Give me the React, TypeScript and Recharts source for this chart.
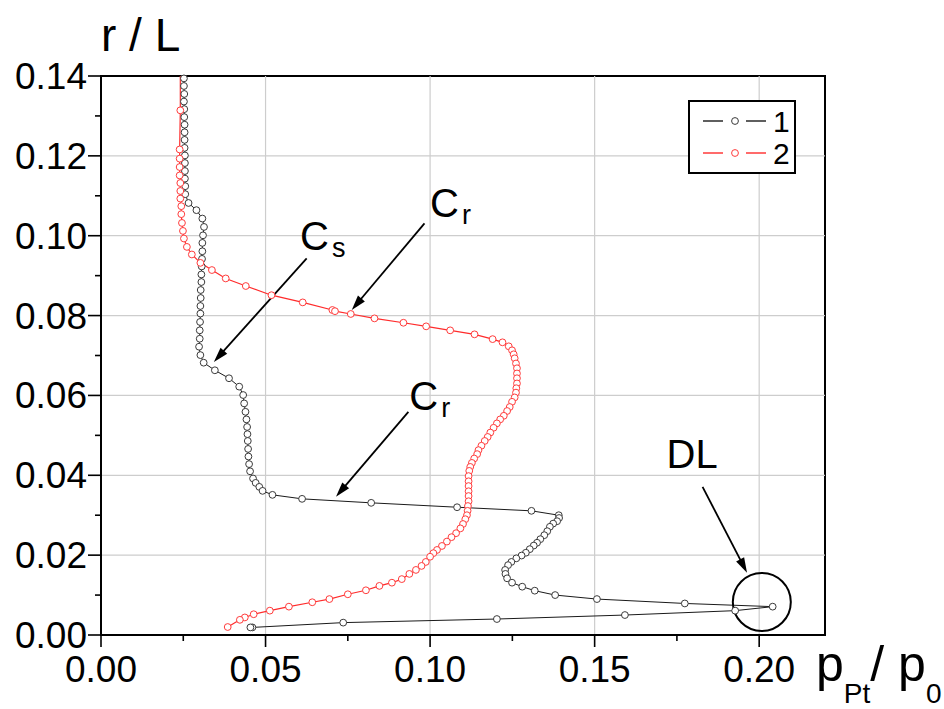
import React from 'react';
import {
  ComposedChart,
  Line,
  XAxis,
  YAxis,
  ReferenceLine,
  ReferenceArea,
  ReferenceDot,
  Legend,
} from 'recharts';

const FONT = "'Liberation Sans', Arial, Helvetica, sans-serif";

// Series 1 (black): x = p_Pt/p_0, y = r/L, ordered along the curve
const s1X = [
  0.0252, 0.0252, 0.0253, 0.0252, 0.0253, 0.0253, 0.0254, 0.0254, 0.0254, 0.0254, 0.0255, 0.0255, 0.0255, 0.0255, 0.0256, 0.0256,
  0.0266, 0.0290, 0.0308, 0.0313, 0.0310, 0.0308, 0.0308, 0.0307, 0.0306, 0.0305, 0.0305, 0.0303, 0.0303, 0.0302, 0.0302, 0.0301,
  0.0300, 0.0300, 0.0298, 0.0302, 0.0312, 0.0346, 0.0389, 0.0420, 0.0432, 0.0435, 0.0439, 0.0442, 0.0444, 0.0445, 0.0446, 0.0447,
  0.0448, 0.0450, 0.0453, 0.0462, 0.0470, 0.0481, 0.0491, 0.0521, 0.0611, 0.0821, 0.1082, 0.1308, 0.1391, 0.1392, 0.1386, 0.1374,
  0.1364, 0.1356, 0.1347, 0.1335, 0.1325, 0.1315, 0.1303, 0.1291, 0.1278, 0.1262, 0.1247, 0.1237, 0.1228, 0.1229, 0.1234, 0.1249,
  0.1280, 0.1318, 0.1380, 0.1507, 0.1774, 0.2041, 0.1927, 0.1592, 0.1203, 0.0736, 0.0460, 0.0454,
];
const s1Y = [
  0.1394, 0.1375, 0.1355, 0.1336, 0.1317, 0.1297, 0.1278, 0.1259, 0.1240, 0.1220, 0.1201, 0.1182, 0.1162, 0.1143, 0.1124, 0.1104,
  0.1082, 0.1064, 0.1043, 0.1022, 0.1001, 0.0982, 0.0961, 0.0942, 0.0923, 0.0903, 0.0884, 0.0864, 0.0844, 0.0824, 0.0805, 0.0784,
  0.0763, 0.0742, 0.0722, 0.0701, 0.0682, 0.0663, 0.0643, 0.0622, 0.0601, 0.0580, 0.0559, 0.0540, 0.0521, 0.0503, 0.0486, 0.0466,
  0.0447, 0.0428, 0.0410, 0.0392, 0.0381, 0.0371, 0.0361, 0.0351, 0.0341, 0.0331, 0.0320, 0.0311, 0.0300, 0.0293, 0.0285, 0.0279,
  0.0271, 0.0260, 0.0250, 0.0240, 0.0231, 0.0224, 0.0215, 0.0206, 0.0199, 0.0192, 0.0183, 0.0175, 0.0163, 0.0153, 0.0142, 0.0131,
  0.0121, 0.0111, 0.0100, 0.0090, 0.0079, 0.0071, 0.0061, 0.0050, 0.0040, 0.0031, 0.0019, 0.0019,
];

// Series 2 (red)
const s2X = [
  0.0241, 0.0241, 0.0239, 0.0239, 0.0239, 0.0239, 0.0241, 0.0241, 0.0241, 0.0244, 0.0244, 0.0246, 0.0249, 0.0252, 0.0261, 0.0276,
  0.0302, 0.0337, 0.0379, 0.0440, 0.0518, 0.0613, 0.0703, 0.0711, 0.0759, 0.0831, 0.0919, 0.0988, 0.1061, 0.1135, 0.1190, 0.1220,
  0.1239, 0.1249, 0.1254, 0.1257, 0.1261, 0.1264, 0.1264, 0.1264, 0.1264, 0.1262, 0.1261, 0.1257, 0.1249, 0.1242, 0.1234, 0.1224,
  0.1213, 0.1203, 0.1193, 0.1183, 0.1175, 0.1166, 0.1156, 0.1147, 0.1143, 0.1134, 0.1127, 0.1122, 0.1119, 0.1117, 0.1117, 0.1117,
  0.1117, 0.1117, 0.1117, 0.1115, 0.1114, 0.1112, 0.1107, 0.1100, 0.1092, 0.1079, 0.1065, 0.1051, 0.1036, 0.1021, 0.1010, 0.1000,
  0.0987, 0.0974, 0.0957, 0.0937, 0.0914, 0.0884, 0.0846, 0.0805, 0.0750, 0.0694, 0.0642, 0.0571, 0.0513, 0.0464, 0.0437, 0.0422,
  0.0385,
];
const s2Y = [
  0.1400, 0.1314, 0.1216, 0.1193, 0.1172, 0.1151, 0.1132, 0.1112, 0.1093, 0.1074, 0.1054, 0.1032, 0.1012, 0.0993, 0.0972, 0.0953,
  0.0932, 0.0914, 0.0893, 0.0874, 0.0851, 0.0833, 0.0814, 0.0811, 0.0804, 0.0793, 0.0782, 0.0773, 0.0763, 0.0753, 0.0741, 0.0733,
  0.0723, 0.0713, 0.0703, 0.0693, 0.0680, 0.0668, 0.0655, 0.0643, 0.0630, 0.0618, 0.0607, 0.0595, 0.0584, 0.0571, 0.0561, 0.0549,
  0.0540, 0.0530, 0.0519, 0.0507, 0.0496, 0.0486, 0.0474, 0.0463, 0.0453, 0.0442, 0.0431, 0.0421, 0.0411, 0.0398, 0.0385, 0.0373,
  0.0360, 0.0348, 0.0335, 0.0323, 0.0311, 0.0300, 0.0290, 0.0278, 0.0267, 0.0255, 0.0245, 0.0234, 0.0223, 0.0213, 0.0205, 0.0196,
  0.0183, 0.0173, 0.0163, 0.0153, 0.0140, 0.0131, 0.0123, 0.0112, 0.0102, 0.0090, 0.0082, 0.0071, 0.0061, 0.0052, 0.0044, 0.0038,
  0.0020,
];

const seriesNames = ['1', '2'];
const seriesColors = ['#1a1a1a', '#ff2b2b'];
const dotColors = ['#3a3a3a', '#ff3b3b'];

const xTicks = [0, 0.025, 0.05, 0.075, 0.1, 0.125, 0.15, 0.175, 0.2];
const xMajor = [0, 0.05, 0.1, 0.15, 0.2];
const yTicks = [0, 0.01, 0.02, 0.03, 0.04, 0.05, 0.06, 0.07, 0.08, 0.09, 0.1, 0.11, 0.12, 0.13, 0.14];
const yMajor = [0, 0.02, 0.04, 0.06, 0.08, 0.1, 0.12, 0.14];
const xGrid = [0.05, 0.1, 0.15, 0.2];
const yGrid = [0.02, 0.04, 0.06, 0.08, 0.1, 0.12];

// annotations: [x0, y0, x1, y1] arrows (tail -> head)
const arrows = [
  [0.0625, 0.0943, 0.0343, 0.0684],
  [0.0983, 0.1031, 0.0762, 0.0814],
  [0.0934, 0.0559, 0.0714, 0.0346],
  [0.1828, 0.0371, 0.1963, 0.0156],
];
const annoMain = ['C', 'C', 'C', 'DL'];
const annoSub = ['s', 'r', 'r', ''];
const annoX = [0.0605, 0.1000, 0.0937, 0.1874];
const annoY = [0.0964, 0.1047, 0.0563, 0.0418];
const circleX = 0.2008;
const circleY = 0.00826;

const d1 = s1X.map((x, i) => ({ x, y: s1Y[i] }));
const d2 = s2X.map((x, i) => ({ x, y: s2Y[i] }));

const isIn = (v: number, arr: number[]) => arr.some((m) => Math.abs(m - v) < 1e-9);

const XTick = (props: any) => {
  const { x, y, payload } = props;
  const major = isIn(payload.value, xMajor);
  return (
    <g>
      <line x1={x} y1={y} x2={x} y2={y + (major ? 12 : 6)} stroke="#000" strokeWidth={1.6} />
      {major && (
        <text x={x} y={y + 47} textAnchor="middle" fontSize={37} fontFamily={FONT} fill="#000">
          {payload.value.toFixed(2)}
        </text>
      )}
    </g>
  );
};

const YTick = (props: any) => {
  const { x, y, payload } = props;
  const major = isIn(payload.value, yMajor);
  return (
    <g>
      <line x1={x} y1={y} x2={x - (major ? 13 : 6)} y2={y} stroke="#000" strokeWidth={1.6} />
      {major && (
        <text x={x - 14} y={y + 13} textAnchor="end" fontSize={37} fontFamily={FONT} fill="#000">
          {payload.value.toFixed(2)}
        </text>
      )}
    </g>
  );
};

const YTitle = (props: any) => {
  const vb = props.viewBox || {};
  return (
    <text x={vb.x + vb.width} y={vb.y - 25} fontSize={46} fontFamily={FONT} fill="#000">
      r / L
    </text>
  );
};

const XTitle = (props: any) => {
  const vb = props.viewBox || {};
  return (
    <text x={vb.x + vb.width - 9} y={vb.y + 46} fontSize={50} fontFamily={FONT} fill="#000">
      <tspan>p</tspan>
      <tspan fontSize={28} dy={22}>Pt</tspan>
      <tspan dy={-22}>/ p</tspan>
      <tspan fontSize={28} dy={22}>0</tspan>
    </text>
  );
};

const makeDot = (ci: number, skipFirst: boolean) => (p: any) => {
  if (skipFirst && p.index === 0) return <g key={`d${ci}-${p.index}`} />;
  return (
    <circle
      key={`d${ci}-${p.index}`}
      cx={p.cx}
      cy={p.cy}
      r={3.4}
      fill="#fff"
      stroke={dotColors[ci]}
      strokeWidth={1}
    />
  );
};

const Arrow = (p: any) => {
  const { x1, y1, x2, y2 } = p;
  if ([x1, y1, x2, y2].some((v) => typeof v !== 'number')) return <g />;
  const dx = x2 - x1;
  const dy = y2 - y1;
  const len = Math.hypot(dx, dy) || 1;
  const ux = dx / len;
  const uy = dy / len;
  const L = 15;
  const W = 4.5;
  const bx = x2 - ux * L;
  const by = y2 - uy * L;
  const pts = `${x2},${y2} ${bx - uy * W},${by + ux * W} ${bx + uy * W},${by - ux * W}`;
  return (
    <g>
      <line x1={x1} y1={y1} x2={bx + ux * 2} y2={by + uy * 2} stroke="#000" strokeWidth={1.8} />
      <polygon points={pts} fill="#000" />
    </g>
  );
};

const makeAnno = (i: number) => (p: any) => {
  const isDL = annoSub[i] === '';
  return (
    <text
      x={p.cx}
      y={p.cy}
      fontSize={40}
      fontFamily={FONT}
      fill="#000"
      textAnchor={isDL ? 'end' : 'start'}
    >
      {annoMain[i]}
      {annoSub[i] && (
        <tspan fontSize={27} dx={3} dy={7}>
          {annoSub[i]}
        </tspan>
      )}
    </text>
  );
};

const LegendBox = () => (
  <svg width={108} height={74} style={{ display: 'block' }}>
    <rect x={1} y={1} width={106} height={72} fill="#fff" stroke="#000" strokeWidth={2} />
    {seriesNames.map((n, i) => {
      const y = 21 + i * 32;
      return (
        <g key={n}>
          <line x1={15} x2={35} y1={y} y2={y} stroke={seriesColors[i]} strokeWidth={1.4} />
          <circle cx={47} cy={y} r={3.4} fill="#fff" stroke={dotColors[i]} strokeWidth={1} />
          <line x1={58} x2={78} y1={y} y2={y} stroke={seriesColors[i]} strokeWidth={1.4} />
          <text x={85} y={y + 11} fontSize={30} fontFamily={FONT} fill="#000">
            {n}
          </text>
        </g>
      );
    })}
  </svg>
);

export default function App() {
  return (
    <div style={{ position: 'absolute', left: 0, top: 0, width: 944, height: 709, background: '#fff' }}>
      <ComposedChart
        width={944}
        height={709}
        margin={{ top: 76, right: 119, bottom: 34, left: 41 }}
      >
        <XAxis
          type="number"
          dataKey="x"
          domain={[0, 0.22]}
          ticks={xTicks}
          interval={0}
          tickLine={false}
          tickSize={0}
          tickMargin={0}
          height={40}
          axisLine={{ stroke: '#000', strokeWidth: 2 }}
          tick={<XTick />}
          label={<XTitle />}
        />
        <YAxis
          type="number"
          dataKey="y"
          domain={[0, 0.14]}
          ticks={yTicks}
          interval={0}
          tickLine={false}
          tickSize={0}
          tickMargin={0}
          width={60}
          axisLine={{ stroke: '#000', strokeWidth: 2 }}
          tick={<YTick />}
          label={<YTitle />}
        />
        {xGrid.map((v) => (
          <ReferenceLine key={`gx${v}`} x={v} stroke="#cdcdcd" strokeWidth={1.2} />
        ))}
        {yGrid.map((v) => (
          <ReferenceLine key={`gy${v}`} y={v} stroke="#cdcdcd" strokeWidth={1.2} />
        ))}
        <ReferenceArea x1={0} x2={0.22} y1={0} y2={0.14} fill="none" fillOpacity={0} stroke="#000" strokeWidth={2} />
        <Line
          data={d1}
          dataKey="y"
          name={seriesNames[0]}
          type="linear"
          stroke={seriesColors[0]}
          strokeWidth={1}
          dot={makeDot(0, false)}
          isAnimationActive={false}
        />
        <Line
          data={d2}
          dataKey="y"
          name={seriesNames[1]}
          type="linear"
          stroke={seriesColors[1]}
          strokeWidth={1.2}
          dot={makeDot(1, true)}
          isAnimationActive={false}
        />
        {arrows.map((a, i) => (
          <ReferenceLine
            key={`ar${i}`}
            segment={[{ x: a[0], y: a[1] }, { x: a[2], y: a[3] }]}
            shape={(p: any) => <Arrow {...p} />}
          />
        ))}
        <ReferenceDot x={circleX} y={circleY} r={29} fill="none" fillOpacity={0} stroke="#000" strokeWidth={2} />
        {annoX.map((x, i) => (
          <ReferenceDot key={`an${i}`} x={x} y={annoY[i]} r={1} shape={makeAnno(i)} />
        ))}
        <Legend
          layout="horizontal"
          verticalAlign="middle"
          align="center"
          wrapperStyle={{ position: 'absolute', left: 688, top: 100, width: 108, height: 74 }}
          content={() => <LegendBox />}
        />
      </ComposedChart>
    </div>
  );
}
